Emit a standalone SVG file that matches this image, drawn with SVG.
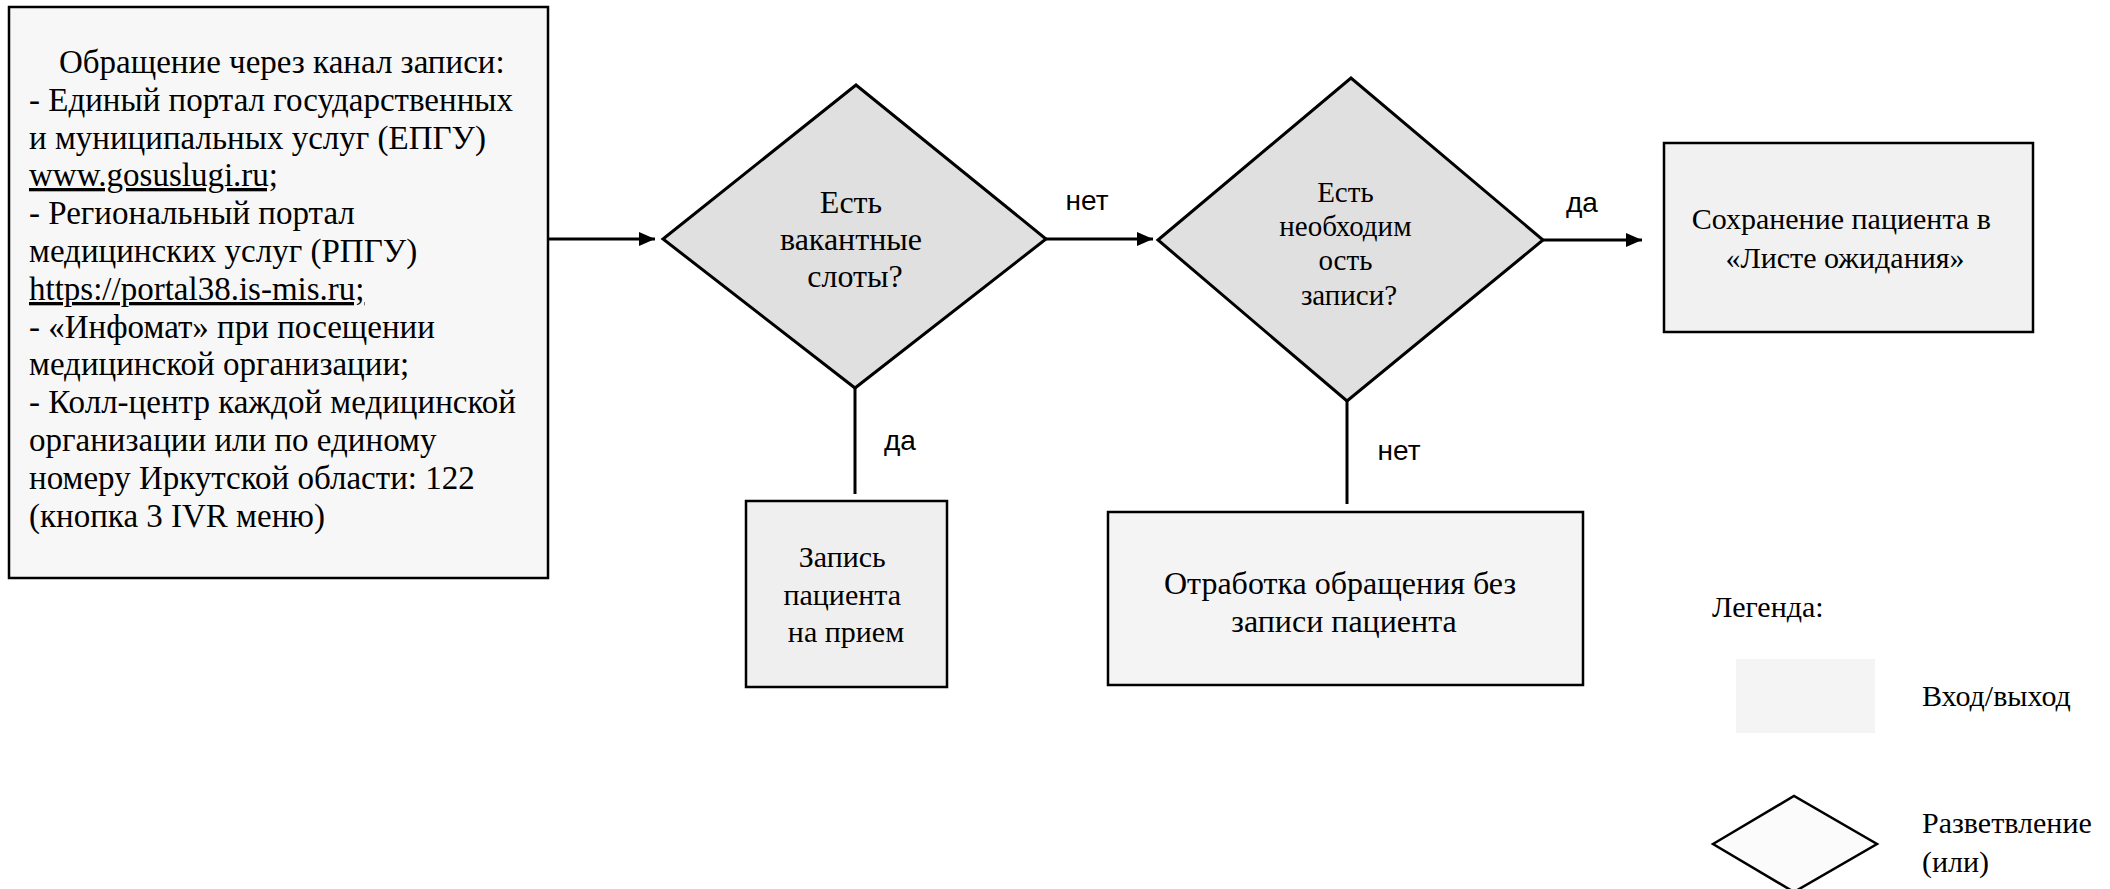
<svg xmlns="http://www.w3.org/2000/svg" width="2110" height="889" viewBox="0 0 2110 889">
<defs>
<marker id="ah" markerWidth="16" markerHeight="14" refX="16" refY="7" orient="auto" markerUnits="userSpaceOnUse">
<path d="M0,0 L16,7 L0,14 Z" fill="#000"/>
</marker>
<style>
.serif{font-family:"Liberation Serif","Times New Roman",serif;fill:#000}
.sans{font-family:"Liberation Sans",Arial,sans-serif;fill:#000;font-size:28px}
.box{stroke:#000;stroke-width:2.5}
.dia{stroke:#000;stroke-width:3;fill:#e0e0e0}
.conn{stroke:#000;stroke-width:3;fill:none}
</style>
</defs>
<rect width="2110" height="889" fill="#fff"/>

<g id="node-input">
<rect class="box" x="9" y="7" width="539" height="571" fill="#f7f7f7"/>
<text class="serif" font-size="33">
<tspan x="59" y="73">Обращение через канал записи:</tspan>
<tspan x="29" y="111">- Единый портал государственных</tspan>
<tspan x="29" y="149">и муниципальных услуг (ЕПГУ)</tspan>
<tspan x="29" y="186" text-decoration="underline">www.gosuslugi.ru;</tspan>
<tspan x="29" y="224">- Региональный портал</tspan>
<tspan x="29" y="262">медицинских услуг (РПГУ)</tspan>
<tspan x="29" y="300" text-decoration="underline">https://portal38.is-mis.ru;</tspan>
<tspan x="29" y="338">- «Инфомат» при посещении</tspan>
<tspan x="29" y="375">медицинской организации;</tspan>
<tspan x="29" y="413">- Колл-центр каждой медицинской</tspan>
<tspan x="29" y="451">организации или по единому</tspan>
<tspan x="29" y="489">номеру Иркутской области: 122</tspan>
<tspan x="29" y="527">(кнопка 3 IVR меню)</tspan>
</text>
</g>

<g id="node-slots">
<polygon class="dia" points="663,239 856,85 1046,239 855,388"/>
<text class="serif" font-size="32" text-anchor="middle">
<tspan x="855" y="213">Есть</tspan>
<tspan x="855" y="250">вакантные</tspan>
<tspan x="855" y="287">слоты?</tspan>
</text>
</g>

<g id="node-need">
<polygon class="dia" points="1158,240 1351,78 1543,240 1347,401"/>
<text class="serif" font-size="29" text-anchor="middle">
<tspan x="1349" y="202">Есть</tspan>
<tspan x="1349" y="236">необходим</tspan>
<tspan x="1349" y="270">ость</tspan>
<tspan x="1349" y="305">записи?</tspan>
</text>
</g>

<g id="node-waitlist">
<rect class="box" x="1664" y="143" width="369" height="189" fill="#f1f1f1"/>
<text class="serif" font-size="30" text-anchor="middle">
<tspan x="1845" y="229">Сохранение пациента в</tspan>
<tspan x="1845" y="268">«Листе ожидания»</tspan>
</text>
</g>

<g id="node-appointment">
<rect class="box" x="746" y="501" width="201" height="186" fill="#efefef"/>
<text class="serif" font-size="30" text-anchor="middle">
<tspan x="846" y="567">Запись</tspan>
<tspan x="846" y="605">пациента</tspan>
<tspan x="846" y="642">на прием</tspan>
</text>
</g>

<g id="node-noappointment">
<rect class="box" x="1108" y="512" width="475" height="173" fill="#f4f4f4"/>
<text class="serif" font-size="32" text-anchor="middle">
<tspan x="1344" y="594">Отработка обращения без</tspan>
<tspan x="1344" y="632">записи пациента</tspan>
</text>
</g>

<g id="connectors">
<line class="conn" x1="548" y1="239" x2="655" y2="239" marker-end="url(#ah)"/>
<line class="conn" x1="1046" y1="239" x2="1153" y2="239" marker-end="url(#ah)"/>
<line class="conn" x1="1543" y1="240" x2="1642" y2="240" marker-end="url(#ah)"/>
<line class="conn" x1="855" y1="388" x2="855" y2="494"/>
<line class="conn" x1="1347" y1="401" x2="1347" y2="504"/>
<text class="sans" x="1087" y="210" text-anchor="middle">нет</text>
<text class="sans" x="1582" y="212" text-anchor="middle">да</text>
<text class="sans" x="900" y="450" text-anchor="middle">да</text>
<text class="sans" x="1399" y="460" text-anchor="middle">нет</text>
</g>

<g id="legend">
<text class="serif" font-size="30" x="1712" y="617">Легенда:</text>
<rect x="1736" y="659" width="139" height="74" fill="#f4f4f4"/>
<text class="serif" font-size="30" x="1922" y="706">Вход/выход</text>
<polygon points="1713,844 1794,796 1877,844 1794,892" fill="#fbfbfb" stroke="#000" stroke-width="2.5"/>
<text class="serif" font-size="30" x="1922" y="833">Разветвление</text>
<text class="serif" font-size="30" x="1922" y="872">(или)</text>
</g>
</svg>
